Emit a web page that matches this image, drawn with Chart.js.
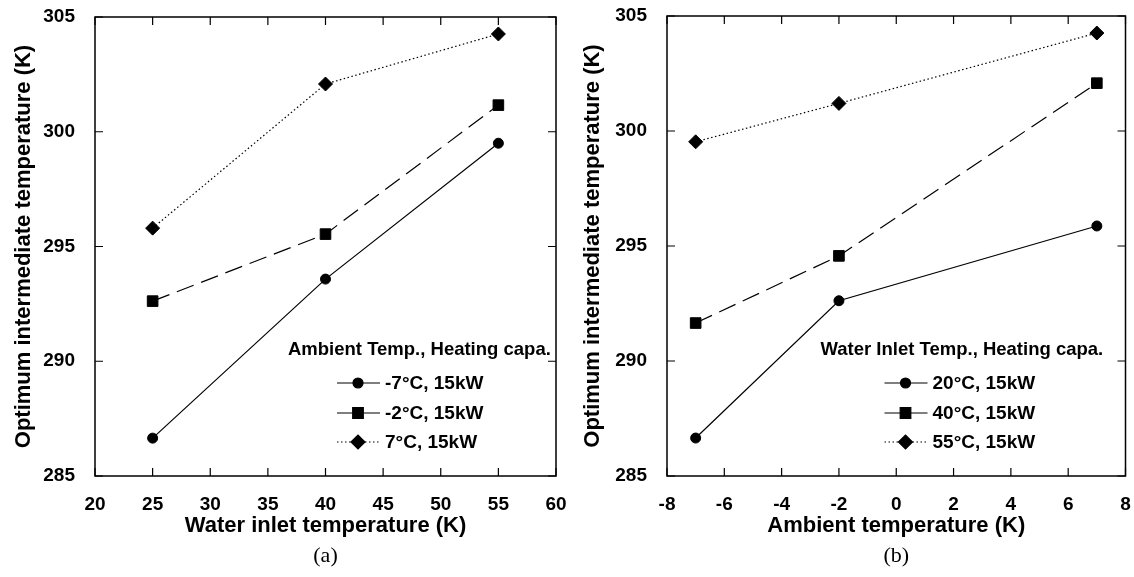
<!DOCTYPE html>
<html>
<head>
<meta charset="utf-8">
<script src="https://cdn.jsdelivr.net/npm/chart.js@4.4.0/dist/chart.umd.min.js"></script>
<style>
  html, body { margin: 0; padding: 0; background: #fff; }
  .panel { position: absolute; top: 0; width: 567px; height: 577px; }
</style>
</head>
<body>
<div class="panel" style="left:0"><canvas id="chartA"></canvas></div>
<div class="panel" style="left:567px"><canvas id="chartB"></canvas></div>
<script>
// (a) optimum intermediate temperature vs water inlet temperature
const waterInlet = [25, 40, 55];
const aMinus7 = [286.65, 293.58, 299.5];
const aMinus2 = [292.62, 295.54, 301.16];
const aPlus7 = [295.8, 302.08, 304.26];
const aLabels = ['-7°C, 15kW', '-2°C, 15kW', '7°C, 15kW'];

// (b) optimum intermediate temperature vs ambient temperature
const ambient = [-7, -2, 7];
const b20 = [286.65, 292.62, 295.87];
const b40 = [291.65, 294.57, 302.08];
const b55 = [299.53, 301.2, 304.26];
const bLabels = ['20°C, 15kW', '40°C, 15kW', '55°C, 15kW'];

Chart.defaults.font.family = '"Liberation Sans", Arial, sans-serif';
Chart.defaults.color = '#000';

const seriesStyle = [
  { pointStyle: 'circle', radius: 5, dash: [] },
  { pointStyle: 'rect', radius: 7.5, dash: [18, 8] },
  { pointStyle: 'rectRot', radius: 7, dash: [1.5, 2.5] }
];

// frame + inward tick marks on all four sides
const framePlugin = {
  id: 'frame',
  beforeDatasetsDraw(chart) {
    const { ctx, chartArea: a, scales } = chart;
    ctx.save();
    ctx.strokeStyle = '#000';
    ctx.lineWidth = 1.5;
    ctx.strokeRect(a.left, a.top, a.right - a.left, a.bottom - a.top);
    ctx.lineWidth = 1.2;
    ctx.beginPath();
    scales.x.ticks.forEach(t => {
      const px = scales.x.getPixelForValue(t.value);
      ctx.moveTo(px, a.bottom); ctx.lineTo(px, a.bottom - 8);
      ctx.moveTo(px, a.top); ctx.lineTo(px, a.top + 8);
    });
    scales.y.ticks.forEach(t => {
      const py = scales.y.getPixelForValue(t.value);
      ctx.moveTo(a.left, py); ctx.lineTo(a.left + 8, py);
      ctx.moveTo(a.right, py); ctx.lineTo(a.right - 8, py);
    });
    ctx.stroke();
    ctx.restore();
  }
};

// legend drawn inside the plot, with a heading line
const boxLegend = {
  id: 'boxLegend',
  afterDatasetsDraw(chart, args, opts) {
    const { ctx, chartArea: a } = chart;
    ctx.save();
    ctx.fillStyle = '#000';
    ctx.textBaseline = 'middle';
    ctx.textAlign = 'left';
    ctx.font = 'bold 18.5px "Liberation Sans", Arial, sans-serif';
    ctx.fillText(opts.heading, a.right - opts.headX, opts.headY);
    ctx.font = 'bold 19px "Liberation Sans", Arial, sans-serif';
    chart.data.datasets.forEach((ds, i) => {
      const y = opts.rowY[i];
      const x0 = a.right - opts.lineX;
      ctx.strokeStyle = '#000';
      ctx.lineWidth = 1.2;
      ctx.setLineDash(ds.borderDash);
      ctx.beginPath();
      ctx.moveTo(x0, y); ctx.lineTo(x0 + 43, y);
      ctx.stroke();
      ctx.setLineDash([]);
      Chart.helpers.drawPoint(ctx, { pointStyle: ds.pointStyle, radius: ds.pointRadius, rotation: 0, borderWidth: 1 }, x0 + 21, y);
      ctx.fillText(ds.label, x0 + 48, y + 1);
    });
    ctx.restore();
  }
};

function makeChart(id, xs, series, labels, cfg) {
  const ctx = document.getElementById(id).getContext('2d');
  new Chart(ctx, {
    type: 'line',
    data: {
      datasets: series.map((vals, i) => ({
        label: labels[i],
        data: xs.map((x, j) => ({ x: x, y: vals[j] })),
        borderColor: '#000',
        backgroundColor: '#000',
        borderWidth: 1.2,
        borderDash: seriesStyle[i].dash,
        pointStyle: seriesStyle[i].pointStyle,
        pointRadius: seriesStyle[i].radius,
        pointBackgroundColor: '#000',
        pointBorderColor: '#000',
        pointBorderWidth: 1,
        tension: 0,
        clip: false
      }))
    },
    options: {
      responsive: true,
      maintainAspectRatio: false,
      animation: false,
      events: [],
      layout: { padding: { top: cfg.top, right: cfg.right, left: 0, bottom: 0 } },
      scales: {
        x: {
          type: 'linear',
          min: cfg.xMin, max: cfg.xMax,
          ticks: { stepSize: cfg.xStep, font: { size: 19, weight: 'bold' }, color: '#000', padding: 9 },
          grid: { display: false },
          border: { display: false },
          title: {
            display: true, text: cfg.xTitle, color: '#000',
            font: { size: 22, weight: 'bold' }, padding: { top: 0, bottom: 3 }
          },
          afterFit: s => { s.height = 66.6; s.paddingLeft = 0; s.paddingRight = 0; }
        },
        y: {
          min: 285, max: 305,
          ticks: { stepSize: 5, font: { size: 19, weight: 'bold' }, color: '#000', padding: cfg.yPad },
          grid: { display: false },
          border: { display: false },
          title: {
            display: true, text: 'Optimum intermediate temperature (K)', color: '#000',
            font: { size: 22, weight: 'bold' }, padding: { top: cfg.yTitlePad, bottom: 0 }
          },
          afterFit: s => { s.width = cfg.yWidth; s.paddingTop = 0; s.paddingBottom = 0; }
        }
      },
      plugins: {
        legend: { display: false },
        tooltip: { enabled: false },
        title: {
          display: true, position: 'bottom', fullSize: false, text: cfg.caption, color: '#000',
          font: { family: '"Liberation Serif", "Times New Roman", serif', size: 22, weight: 'normal' },
          padding: { top: 0, bottom: 8 }
        },
        boxLegend: cfg.legend
      }
    },
    plugins: [framePlugin, boxLegend]
  });
}

makeChart('chartA', waterInlet, [aMinus7, aMinus2, aPlus7], aLabels, {
  top: 17, right: 11, yWidth: 95, yPad: 12, yTitlePad: 11,
  xMin: 20, xMax: 60, xStep: 5,
  xTitle: 'Water inlet temperature (K)', caption: '(a)',
  legend: { heading: 'Ambient Temp., Heating capa.', headX: 268, headY: 350, lineX: 219, rowY: [383, 413, 442] }
});

makeChart('chartB', ambient, [b20, b40, b55], bLabels, {
  top: 16, right: 7, yWidth: 100, yPad: 12, yTitlePad: 13,
  xMin: -8, xMax: 8, xStep: 2,
  xTitle: 'Ambient temperature (K)', caption: '(b)',
  legend: { heading: 'Water Inlet Temp., Heating capa.', headX: 305, headY: 350, lineX: 241, rowY: [383, 413, 442] }
});
</script>
</body>
</html>
